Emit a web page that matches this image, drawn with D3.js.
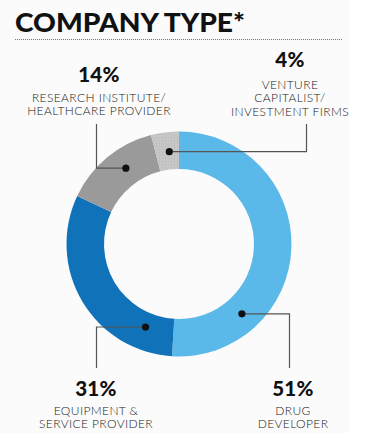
<!DOCTYPE html>
<html><head><meta charset="utf-8">
<script src="https://cdn.jsdelivr.net/npm/d3@7"></script>
<style>body{margin:0;background:#fff;}svg{display:block;}</style>
</head><body>
<svg id="c" width="379" height="444"></svg>
<script>
// ---- data ----
const title = "COMPANY TYPE*";
const categories = ["Drug Developer", "Equipment & Service Provider", "Research Institute/Healthcare Provider", "Venture Capitalist/Investment Firms"];
const values = [51, 31, 14, 4];
const pctLabels = ["51%", "31%", "14%", "4%"];
const labelLines = [["DRUG", "DEVELOPER"], ["EQUIPMENT &", "SERVICE PROVIDER"], ["RESEARCH INSTITUTE/", "HEALTHCARE PROVIDER"], ["VENTURE", "CAPITALIST/", "INVESTMENT FIRMS"]];

// ---- styling / layout ----
const colors = ["#5bb9e9", "#1072b9", "#9a9a9a", "#c6c6c6"];
const cx = 179, cy = 244, rOuter = 112.5, rInner = 75;
// leader: dot angle (deg from top, clockwise), dot radius, elbow x, end y
const leaders = [
  {ang: 138, r: 94, ex: 289.5, ey: 368},
  {ang: 202, r: 89.5, ex: 96.5, ey: 368},
  {ang: 325, r: 92.6, ex: 96.5, ey: 124},
  {ang: 354, r: 92.8, ex: 306.5, ey: 124}
];
const labelPos = [
  {x: 293, pctY: 396, lineY: 414.5},
  {x: 96, pctY: 396, lineY: 414.5},
  {x: 99, pctY: 82, lineY: 101.5},
  {x: 290, pctY: 67, lineY: 88.5}
];

const svg = d3.select("#c");
svg.append("rect").attr("x", 0).attr("y", 0).attr("width", 349).attr("height", 433).attr("fill", "#fbfbfb");

const defs = svg.append("defs");
const pat = defs.append("pattern").attr("id", "dots").attr("width", 3).attr("height", 3).attr("patternUnits", "userSpaceOnUse");
pat.append("rect").attr("width", 3).attr("height", 3).attr("fill", colors[3]);
pat.append("rect").attr("x", 1).attr("y", 1).attr("width", 1).attr("height", 1).attr("fill", "#bababa");

// title
svg.append("text").attr("x", 15).attr("y", 32).text(title)
  .attr("font-family", "Lato, 'Open Sans', sans-serif").attr("font-weight", 900)
  .attr("font-size", 27).attr("fill", "#111")
  .attr("textLength", 230).attr("lengthAdjust", "spacingAndGlyphs");
svg.append("line").attr("x1", 15).attr("x2", 343).attr("y1", 39.5).attr("y2", 39.5)
  .attr("stroke", "#777").attr("stroke-width", 1).attr("stroke-dasharray", "1,1");

// donut
const pie = d3.pie().sort(null).value(d => d)(values);
const arc = d3.arc().innerRadius(rInner).outerRadius(rOuter);
const g = svg.append("g").attr("transform", `translate(${cx},${cy})`);
g.selectAll("path").data(pie).join("path")
  .attr("d", arc)
  .attr("fill", (d, i) => i === 3 ? "url(#dots)" : colors[i]);

// leaders
const toRad = a => a * Math.PI / 180;
leaders.forEach((L, i) => {
  const px = cx + L.r * Math.sin(toRad(L.ang));
  const py = cy - L.r * Math.cos(toRad(L.ang));
  svg.append("path")
    .attr("d", `M${px},${py}H${L.ex}V${L.ey}`)
    .attr("fill", "none").attr("stroke", "#555").attr("stroke-width", 1.2);
  svg.append("circle").attr("cx", px).attr("cy", py).attr("r", 3.6).attr("fill", "#111");
});

// labels
labelPos.forEach((P, i) => {
  svg.append("text").attr("x", P.x).attr("y", P.pctY).attr("text-anchor", "middle")
    .attr("font-family", "Lato, 'Open Sans', sans-serif").attr("font-weight", 900)
    .attr("font-size", 20.5).attr("letter-spacing", 0.3).attr("fill", "#111").text(pctLabels[i]);
  labelLines[i].forEach((t, j) => {
    svg.append("text").attr("x", P.x).attr("y", P.lineY + j * 13.8).attr("text-anchor", "middle")
      .attr("font-family", "Lato, 'Open Sans', sans-serif").attr("font-weight", 300)
      .attr("font-size", 12).attr("letter-spacing", 0.4).attr("fill", "#222").text(t);
  });
});
</script>
</body></html>
